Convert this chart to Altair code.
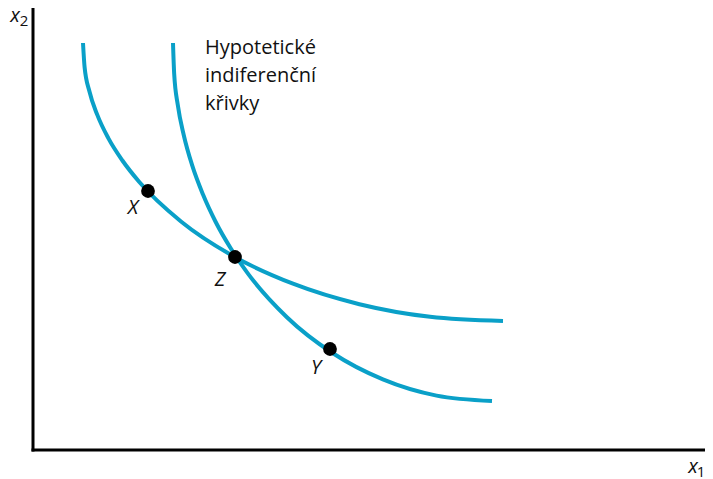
import altair as alt
import pandas as pd

# Curve values (x1, x2)
curve_a_x1 = [50, 51.6, 56.4, 64.3, 75.3, 89.4, 106.3, 148.3, 200, 260, 326.4, 397.1, 470]
curve_a_x2 = [407, 382.8, 358.7, 335.1, 311.9, 289.5, 268, 228.3, 194, 166.3, 145.8, 133.2, 129]
curve_b_x1 = [140, 141.2, 144.8, 150.9, 159.2, 169.9, 182.7, 197.7, 214.6, 253.9, 299.5, 349.9, 403.6, 459]
curve_b_x2 = [407, 375.8, 344.9, 314.3, 284.6, 255.7, 228, 201.7, 176.9, 132.8, 97, 70.6, 54.4, 49]

point_names = ["X", "Z", "Y"]
point_x1 = [115, 202, 297]
point_x2 = [259, 193, 101]
label_x1 = [100, 187, 283]
label_x2 = [242, 170, 82]

note_lines = ["Hypotetické", "indiferenční", "křivky"]
note_x1 = [172, 172, 172]
note_x2 = [402, 374, 346]

BLUE = "#0aa0c8"
FONT = "Open Sans"

curves = pd.DataFrame(
    [{"c": "A", "o": i, "x1": a, "x2": b} for i, (a, b) in enumerate(zip(curve_a_x1, curve_a_x2))]
    + [{"c": "B", "o": i, "x1": a, "x2": b} for i, (a, b) in enumerate(zip(curve_b_x1, curve_b_x2))]
)
pts = pd.DataFrame({"name": point_names, "x1": point_x1, "x2": point_x2,
                    "lx": label_x1, "ly": label_x2})
notes = pd.DataFrame({"t": note_lines, "x1": note_x1, "x2": note_x2})

W, H = 672, 442
xs = alt.Scale(domain=[0, W], nice=False, zero=False)
ys = alt.Scale(domain=[0, H], nice=False, zero=False)
noax = None

# axes drawn as rules
axes_df = pd.DataFrame({"xa": [0, 0], "xb": [W, 0], "ya": [0, 0], "yb": [0, H]})
axes = alt.Chart(axes_df).mark_rule(color="black", strokeWidth=3, strokeCap="square").encode(
    x=alt.X("xa:Q", scale=xs, axis=noax), x2="xb:Q",
    y=alt.Y("ya:Q", scale=ys, axis=noax), y2="yb:Q",
)

lines = alt.Chart(curves).mark_line(color=BLUE, strokeWidth=4, interpolate="monotone").encode(
    x=alt.X("x1:Q", scale=xs, axis=noax),
    y=alt.Y("x2:Q", scale=ys, axis=noax),
    detail="c:N",
    order="o:Q",
)

dots = alt.Chart(pts).mark_circle(color="black", opacity=1, size=190).encode(
    x=alt.X("x1:Q", scale=xs), y=alt.Y("x2:Q", scale=ys)
)

dot_labels = alt.Chart(pts).mark_text(font=FONT, fontSize=20, fontStyle="italic",
                                      color="#111111", baseline="middle", align="center").encode(
    x=alt.X("lx:Q", scale=xs), y=alt.Y("ly:Q", scale=ys), text="name:N"
)

note = alt.Chart(notes).mark_text(font=FONT, fontSize=20, color="#111111",
                                  align="left", baseline="middle").encode(
    x=alt.X("x1:Q", scale=xs), y=alt.Y("x2:Q", scale=ys), text="t:N"
)

axis_main = pd.DataFrame({"t": ["x", "x"], "x1": [-18, 660], "x2": [428, -23]})
axis_sub = pd.DataFrame({"t": ["2", "1"], "x1": [-9, 668], "x2": [424, -27]})

ax_labels = alt.Chart(axis_main).mark_text(font=FONT, fontSize=20, fontStyle="italic",
                                           color="#111111", baseline="alphabetic", align="center").encode(
    x=alt.X("x1:Q", scale=xs), y=alt.Y("x2:Q", scale=ys), text="t:N"
)
ax_subs = alt.Chart(axis_sub).mark_text(font=FONT, fontSize=15, color="#111111",
                                        baseline="alphabetic", align="center").encode(
    x=alt.X("x1:Q", scale=xs), y=alt.Y("x2:Q", scale=ys), text="t:N"
)

chart = alt.layer(axes, lines, dots, dot_labels, note, ax_labels, ax_subs).properties(
    width=W, height=H,
    padding={"left": 25, "top": 0, "right": 0, "bottom": 29},
    autosize=alt.AutoSizeParams(type="none"),
).configure_view(stroke=None)

chart.save("out.html", embed_options={"renderer": "svg", "actions": False})
